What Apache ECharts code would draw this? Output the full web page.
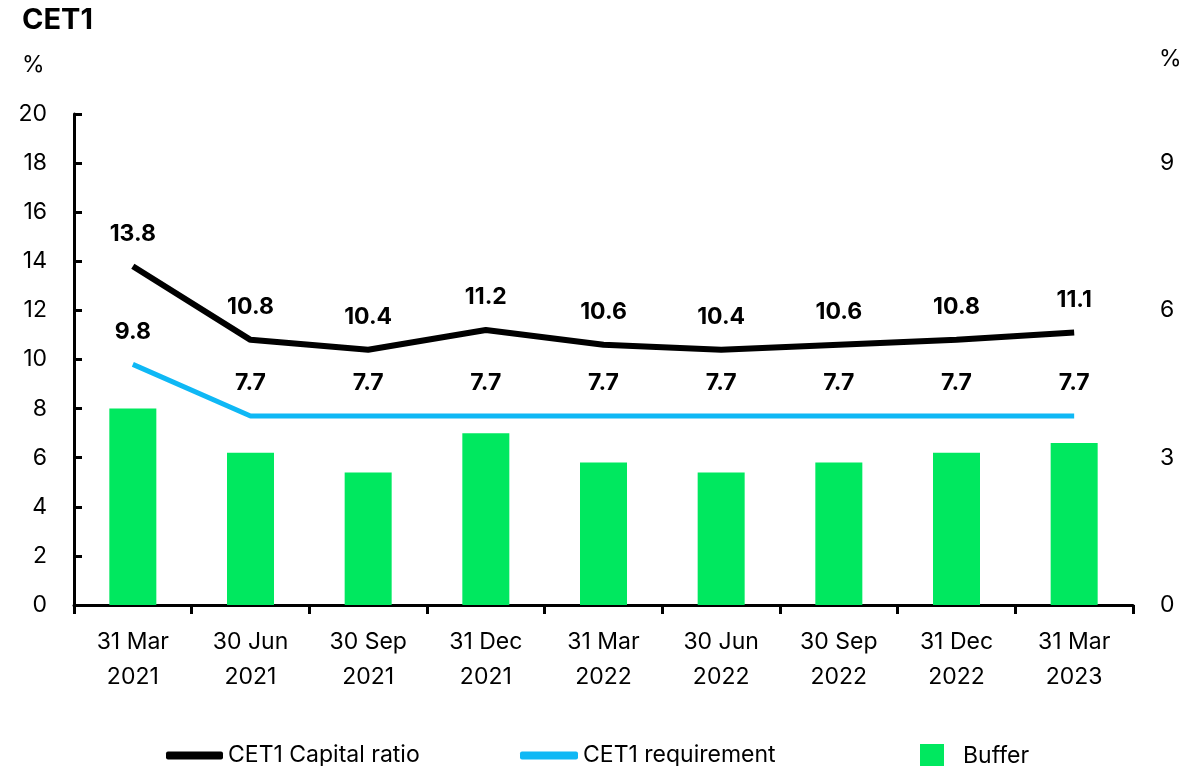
<!DOCTYPE html>
<html><head><meta charset="utf-8">
<script src="https://cdn.jsdelivr.net/npm/echarts@6/dist/echarts.min.js"></script>
<style>html,body{margin:0;padding:0;background:#fff}#c{width:1181px;height:766px}</style>
</head><body><div id="c"></div>
<script>
const categories = ['31 Mar\n2021','30 Jun\n2021','30 Sep\n2021','31 Dec\n2021','31 Mar\n2022','30 Jun\n2022','30 Sep\n2022','31 Dec\n2022','31 Mar\n2023'];
const capitalRatio = [13.8,10.8,10.4,11.2,10.6,10.4,10.6,10.8,11.1];
const requirement = [9.8,7.7,7.7,7.7,7.7,7.7,7.7,7.7,7.7];
const buffer = [4.0,3.1,2.7,3.5,2.9,2.7,2.9,3.1,3.3];
const leftTicks = [0,2,4,6,8,10,12,14,16,18,20];
const rightTicks = [0,3,6,9];

const F = 'Inter, "Noto Sans", sans-serif';
const FS = 23;
const chart = echarts.init(document.getElementById('c'));
const lbl = {show:true, position:'top', distance:21, color:'#000', fontFamily:F, fontSize:23, fontWeight:'bold', formatter: p => p.value.toFixed(1)};
chart.setOption({
  animation:false,
  textStyle:{fontFamily:F},
  graphic:[
    {type:'text', left:22, top:6, style:{text:'CET1', font:'bold 29px '+F, fill:'#000'}},
    {type:'text', left:22, top:54, style:{text:'%', font:FS+'px '+F, fill:'#000'}},
    {type:'text', left:1159, top:48, style:{text:'%', font:FS+'px '+F, fill:'#000'}}
  ],
  grid:{left:74, right:48, top:114, bottom:161},
  legend:[
    {data:[{name:'CET1 Capital ratio', icon:'roundRect'}], left:166, top:744, padding:0, itemWidth:57, itemHeight:8, itemGap:5, textStyle:{fontFamily:F, fontSize:FS, color:'#000'}},
    {data:[{name:'CET1 requirement', icon:'roundRect'}], left:520, top:744, padding:0, itemWidth:58, itemHeight:8, itemGap:5, textStyle:{fontFamily:F, fontSize:FS, color:'#000'}},
    {data:[{name:'Buffer', icon:'rect'}], left:920, top:744, padding:0, itemWidth:24, itemHeight:24, itemGap:5, textStyle:{fontFamily:F, fontSize:FS, color:'#000', padding:[0,0,0,14]}}
  ],
  xAxis:{type:'category', data:categories, boundaryGap:true,
    axisLine:{lineStyle:{color:'#000', width:3}},
    axisTick:{show:true, length:9, lineStyle:{color:'#000', width:3}},
    axisLabel:{color:'#000', fontFamily:F, fontSize:FS, lineHeight:35, margin:20, interval:0}},
  yAxis:[
    {type:'value', min:0, max:20, interval:2,
      axisLine:{show:true, lineStyle:{color:'#000', width:3}},
      axisTick:{show:true, inside:true, length:8, lineStyle:{color:'#000', width:3}},
      splitLine:{show:false},
      axisLabel:{color:'#000', fontFamily:F, fontSize:FS, margin:27, formatter: v => leftTicks.includes(v) ? String(v) : ''}},
    {type:'value', min:0, max:10, interval:3,
      axisLine:{show:false}, axisTick:{show:false}, splitLine:{show:false},
      axisLabel:{color:'#000', fontFamily:F, fontSize:FS, margin:27, formatter: v => rightTicks.includes(v) ? String(v) : ''}}
  ],
  series:[
    {name:'Buffer', type:'bar', yAxisIndex:1, data:buffer, barWidth:47, itemStyle:{color:'#00E85F'}},
    {name:'CET1 requirement', type:'line', data:requirement, symbol:'circle', symbolSize:0.1, itemStyle:{color:'#0FB8F5'}, lineStyle:{color:'#0FB8F5', width:5}, label:lbl},
    {name:'CET1 Capital ratio', type:'line', data:capitalRatio, symbol:'circle', symbolSize:0.1, itemStyle:{color:'#000'}, lineStyle:{color:'#000', width:6}, label:lbl}
  ]
});
</script></body></html>
